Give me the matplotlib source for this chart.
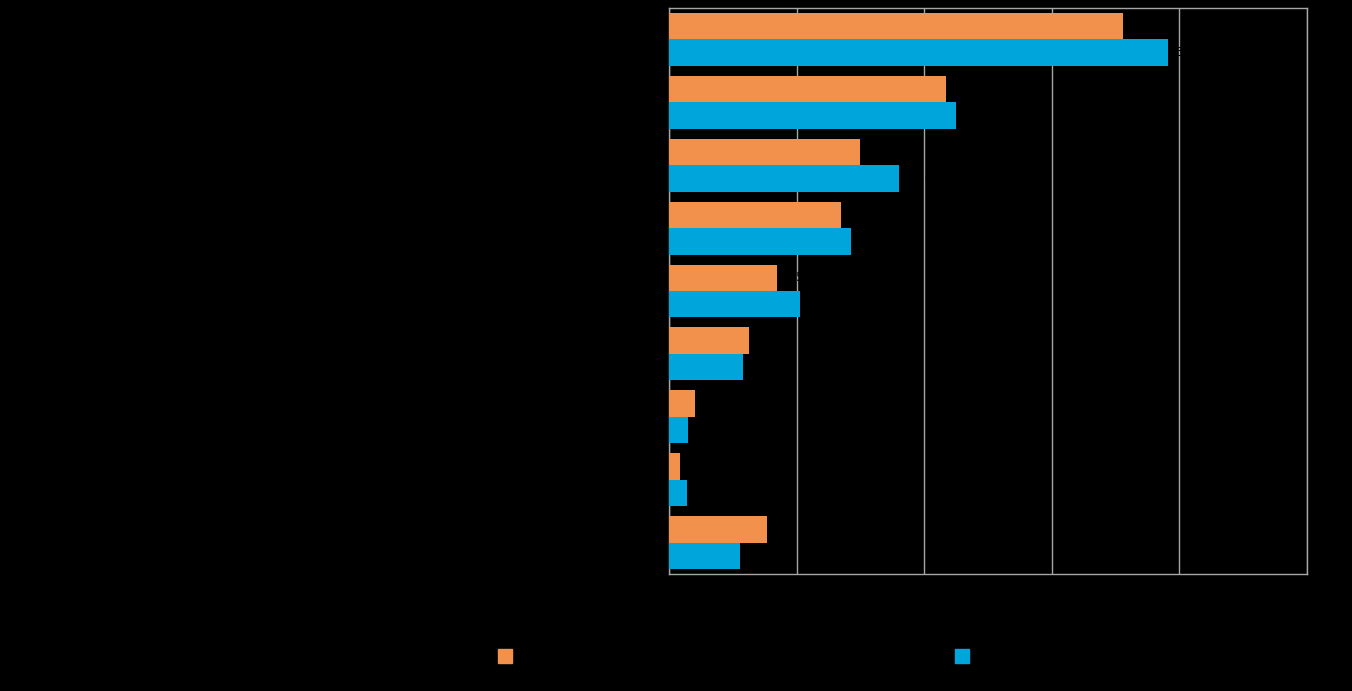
import numpy as np
import matplotlib
matplotlib.use('Agg')
import matplotlib.pyplot as plt
from matplotlib.lines import Line2D

# 数据
categories = ['1', '2', '3', '4', '5', '6', '7', '8', '9']
series_a = [35.6, 21.7, 15.0, 13.5, 8.5, 6.3, 2.0, 0.9, 7.7]
series_b = [39.1, 22.5, 18.0, 14.3, 10.3, 5.8, 1.5, 1.4, 5.6]
series_names = ['A', 'B']
x_ticks = [0, 10, 20, 30, 40, 50]

color_a = '#F2914B'
color_b = '#00A5DB'
grid_color = '#A6A6A6'

fig = plt.figure(figsize=(13.52, 6.91), dpi=100, facecolor='black')
ax = fig.add_axes([669 / 1352, 1 - 574 / 691, 638 / 1352, 566 / 691])
ax.set_facecolor('black')

y = np.arange(len(categories))
h = 0.42
bars_a = ax.barh(y - h / 2, series_a, height=h, color=color_a, zorder=3)
bars_b = ax.barh(y + h / 2, series_b, height=h, color=color_b, zorder=3)

# 数值标签（黑色，与背景同色）
ax.bar_label(bars_a, fmt='%.1f', padding=5, color='black', fontsize=9, zorder=4)
ax.bar_label(bars_b, fmt='%.1f', padding=5, color='black', fontsize=9, zorder=4)

ax.set_ylim(len(categories) - 0.5, -0.5)
ax.set_xlim(0, 50)
ax.set_xticks(x_ticks)
ax.set_yticks(y)
ax.set_yticklabels(categories, color='black')
ax.tick_params(axis='both', length=0, colors='black', labelcolor='black')
ax.grid(axis='x', color=grid_color, linewidth=1, zorder=0)
for s in ax.spines.values():
    s.set_color(grid_color)
    s.set_linewidth(1)

# 图例
h_a = Line2D([], [], marker='s', linestyle='none', markersize=10.5, color=color_a)
h_b = Line2D([], [], marker='s', linestyle='none', markersize=10.5, color=color_b)
fig.legend([h_a], [series_names[0]], loc='center left',
           bbox_to_anchor=(486 / 1352, 1 - 657 / 691), frameon=False,
           handlelength=1, handletextpad=0.5, labelcolor='black')
fig.legend([h_b], [series_names[1]], loc='center left',
           bbox_to_anchor=(943 / 1352, 1 - 657 / 691), frameon=False,
           handlelength=1, handletextpad=0.5, labelcolor='black')

fig.savefig('out.png', dpi=100, facecolor='black')
